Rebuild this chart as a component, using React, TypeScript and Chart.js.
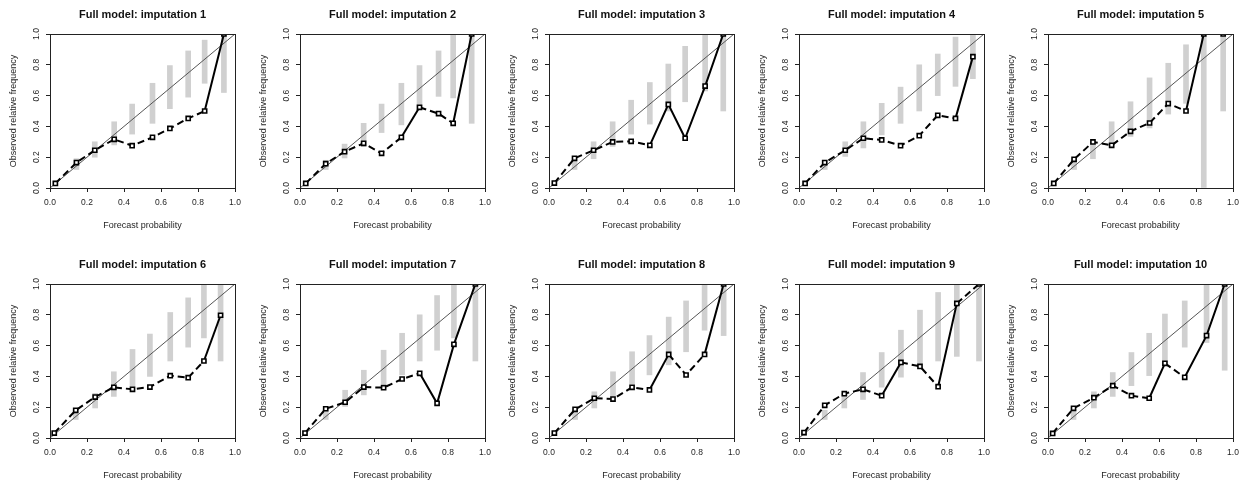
import React, { useEffect, useRef } from "react";
import { Chart, registerables } from "chart.js";

Chart.register(...registerables);

const panelTitles = [
  "Full model: imputation 1",
  "Full model: imputation 2",
  "Full model: imputation 3",
  "Full model: imputation 4",
  "Full model: imputation 5",
  "Full model: imputation 6",
  "Full model: imputation 7",
  "Full model: imputation 8",
  "Full model: imputation 9",
  "Full model: imputation 10",
];

const xAxisTitle = "Forecast probability";
const yAxisTitle = "Observed relative frequency";

const tickValues = [0, 0.2, 0.4, 0.6, 0.8, 1.0];
const tickLabels = ["0.0", "0.2", "0.4", "0.6", "0.8", "1.0"];

const diagonal = [0, 1];

// mean forecast probability per bin
const forecastProb = [
  [0.029, 0.143, 0.242, 0.347, 0.444, 0.554, 0.648, 0.747, 0.836, 0.94],
  [0.031, 0.139, 0.241, 0.344, 0.441, 0.548, 0.646, 0.749, 0.828, 0.928],
  [0.029, 0.138, 0.241, 0.344, 0.444, 0.545, 0.645, 0.736, 0.844, 0.942],
  [0.033, 0.139, 0.25, 0.348, 0.447, 0.549, 0.65, 0.75, 0.846, 0.94],
  [0.031, 0.141, 0.243, 0.344, 0.446, 0.549, 0.65, 0.746, 0.842, 0.947],
  [0.023, 0.139, 0.244, 0.345, 0.446, 0.54, 0.65, 0.747, 0.832, 0.922],
  [0.027, 0.139, 0.244, 0.345, 0.452, 0.552, 0.647, 0.741, 0.832, 0.948],
  [0.029, 0.141, 0.245, 0.346, 0.449, 0.543, 0.647, 0.741, 0.841, 0.944],
  [0.027, 0.139, 0.245, 0.346, 0.447, 0.551, 0.654, 0.752, 0.853, 0.973],
  [0.025, 0.138, 0.248, 0.35, 0.451, 0.547, 0.632, 0.739, 0.857, 0.955],
];

// observed relative frequency per bin
const observedFreq = [
  [0.03, 0.165, 0.245, 0.316, 0.275, 0.329, 0.387, 0.452, 0.5, 1.0],
  [0.03, 0.158, 0.236, 0.29, 0.225, 0.329, 0.524, 0.483, 0.42, 1.0],
  [0.032, 0.193, 0.245, 0.299, 0.303, 0.277, 0.543, 0.323, 0.662, 1.0],
  [0.03, 0.165, 0.245, 0.323, 0.312, 0.275, 0.34, 0.472, 0.452, 0.853],
  [0.03, 0.186, 0.299, 0.277, 0.368, 0.422, 0.548, 0.5, 1.0, 1.0],
  [0.032, 0.18, 0.266, 0.329, 0.316, 0.331, 0.405, 0.392, 0.5, 0.797],
  [0.032, 0.19, 0.232, 0.331, 0.327, 0.383, 0.42, 0.225, 0.608, 1.0],
  [0.032, 0.186, 0.258, 0.253, 0.329, 0.312, 0.543, 0.409, 0.543, 1.0],
  [0.035, 0.212, 0.288, 0.316, 0.275, 0.491, 0.465, 0.333, 0.874, 1.0],
  [0.03, 0.193, 0.262, 0.34, 0.275, 0.258, 0.485, 0.394, 0.665, 1.0],
];

// consistency band lower bounds
const lowerBound = [
  [0.015, 0.12, 0.2, 0.28, 0.35, 0.42, 0.515, 0.59, 0.68, 0.62],
  [0.015, 0.12, 0.195, 0.27, 0.36, 0.41, 0.51, 0.595, 0.585, 0.42],
  [0.015, 0.12, 0.19, 0.27, 0.35, 0.415, 0.5, 0.56, 0.63, 0.5],
  [0.015, 0.12, 0.205, 0.26, 0.345, 0.42, 0.5, 0.6, 0.66, 0.71],
  [0.015, 0.12, 0.19, 0.27, 0.335, 0.39, 0.48, 0.55, 0.0, 0.5],
  [0.015, 0.12, 0.195, 0.27, 0.335, 0.4, 0.5, 0.59, 0.65, 0.5],
  [0.015, 0.12, 0.205, 0.28, 0.35, 0.41, 0.5, 0.57, 0.65, 0.5],
  [0.015, 0.12, 0.195, 0.27, 0.35, 0.41, 0.475, 0.56, 0.7, 0.665],
  [0.015, 0.12, 0.195, 0.25, 0.33, 0.395, 0.48, 0.5, 0.53, 0.5],
  [0.015, 0.12, 0.195, 0.27, 0.34, 0.405, 0.495, 0.59, 0.62, 0.44],
];

// consistency band upper bounds
const upperBound = [
  [0.045, 0.19, 0.3, 0.43, 0.545, 0.68, 0.795, 0.89, 0.96, 1.0],
  [0.045, 0.18, 0.285, 0.42, 0.545, 0.68, 0.795, 0.89, 1.0, 1.0],
  [0.045, 0.19, 0.3, 0.43, 0.57, 0.685, 0.805, 0.92, 1.0, 1.0],
  [0.045, 0.18, 0.3, 0.43, 0.55, 0.655, 0.8, 0.87, 0.98, 1.0],
  [0.045, 0.19, 0.31, 0.43, 0.56, 0.715, 0.81, 0.93, 1.0, 1.0],
  [0.045, 0.18, 0.29, 0.43, 0.575, 0.675, 0.815, 0.91, 1.0, 1.0],
  [0.045, 0.19, 0.31, 0.44, 0.57, 0.68, 0.8, 0.925, 1.0, 1.0],
  [0.045, 0.19, 0.3, 0.43, 0.56, 0.665, 0.785, 0.89, 1.0, 1.0],
  [0.045, 0.18, 0.29, 0.425, 0.555, 0.7, 0.83, 0.945, 1.0, 1.0],
  [0.045, 0.19, 0.3, 0.425, 0.555, 0.68, 0.805, 0.89, 1.0, 1.0],
];

const FONT = "'Liberation Sans', Arial, sans-serif";
const TEXT = "#1e1e1e";
const CANVAS_W = 249;
const CANVAS_H = 235;

const framePlugin = {
  id: "rFrame",
  afterDraw(chart: any) {
    const { ctx, chartArea } = chart;
    const { left, right, top, bottom } = chartArea;
    ctx.save();
    ctx.strokeStyle = "#222";
    ctx.lineWidth = 1;
    ctx.strokeRect(
      Math.round(left) + 0.5,
      Math.round(top) + 0.5,
      Math.round(right) - Math.round(left),
      Math.round(bottom) - Math.round(top)
    );
    // rotated y tick labels (R style)
    const ys = chart.scales.y;
    ctx.fillStyle = TEXT;
    ctx.font = `8.5px ${FONT}`;
    ctx.textAlign = "center";
    ctx.textBaseline = "middle";
    tickValues.forEach((v, i) => {
      const py = ys.getPixelForValue(v);
      ctx.save();
      ctx.translate(37, py);
      ctx.rotate(-Math.PI / 2);
      ctx.fillText(tickLabels[i], 0, 0);
      ctx.restore();
    });
    ctx.restore();
  },
};

function Panel({ idx }: { idx: number }) {
  const ref = useRef<HTMLCanvasElement>(null);
  useEffect(() => {
    const xs = forecastProb[idx];
    const setTicks = (s: any) => {
      s.ticks = tickValues.map((v) => ({ value: v }));
    };
    const chart = new Chart(ref.current as HTMLCanvasElement, {
      type: "line",
      data: {
        datasets: [
          {
            type: "line",
            label: "observed",
            data: xs.map((x, i) => ({ x, y: observedFreq[idx][i] })),
            borderColor: "#000",
            borderWidth: 2,
            tension: 0,
            pointStyle: "rect",
            pointRadius: 2.9,
            pointBorderWidth: 1.6,
            pointBackgroundColor: "#fff",
            pointBorderColor: "#000",
            segment: {
              borderDash: (c: any) => {
                const dx = Math.abs(c.p1.x - c.p0.x);
                const dy = Math.abs(c.p1.y - c.p0.y);
                return dy > 1.5 * dx ? [] : [7, 4];
              },
            },
            order: 1,
          } as any,
          {
            type: "line",
            label: "diagonal",
            data: diagonal.map((v) => ({ x: v, y: v })),
            borderColor: "#555",
            borderWidth: 1,
            pointRadius: 0,
            order: 2,
          } as any,
          {
            type: "bar",
            label: "band",
            data: xs.map((x, i) => ({ x, y: [lowerBound[idx][i], upperBound[idx][i]] })),
            backgroundColor: "#d0d0d0",
            borderWidth: 0,
            barThickness: 5,
            order: 3,
          } as any,
        ],
      },
      options: {
        animation: false,
        responsive: false,
        events: [],
        layout: { padding: { top: 0, left: 0, right: 14, bottom: 0 } },
        plugins: {
          legend: { display: false },
          tooltip: { enabled: false },
          title: {
            display: true,
            text: panelTitles[idx],
            fullSize: false,
            color: "#111",
            font: { family: FONT, size: 11, weight: "bold", lineHeight: 1.2 },
            padding: { top: 8.4, bottom: 12.4 },
          },
        },
        scales: {
          x: {
            type: "linear",
            min: 0,
            max: 1,
            offset: false,
            afterBuildTicks: setTicks,
            afterFit: (s: any) => {
              s.height = CANVAS_H - 188;
            },
            grid: {
              display: true,
              drawOnChartArea: false,
              drawTicks: true,
              tickLength: 4,
              color: "#222",
              offset: false,
            },
            border: { display: false },
            ticks: {
              padding: 6,
              color: TEXT,
              maxRotation: 0,
              autoSkip: false,
              font: { family: FONT, size: 8.5, lineHeight: 1.2 },
              callback: (_v: any, i: number) => tickLabels[i],
            },
            title: {
              display: true,
              text: xAxisTitle,
              color: TEXT,
              font: { family: FONT, size: 9, lineHeight: 1.2 },
              padding: { top: 0, bottom: 3.6 },
            },
          },
          y: {
            type: "linear",
            min: 0,
            max: 1,
            afterBuildTicks: setTicks,
            afterFit: (s: any) => {
              s.width = 50;
            },
            grid: {
              display: true,
              drawOnChartArea: false,
              drawTicks: true,
              tickLength: 4,
              color: "#222",
            },
            border: { display: false },
            ticks: { display: false },
            title: {
              display: true,
              text: yAxisTitle,
              color: TEXT,
              font: { family: FONT, size: 9, lineHeight: 1.2 },
              padding: { top: 8.6, bottom: 0 },
            },
          },
        },
      } as any,
      plugins: [framePlugin],
    });
    return () => chart.destroy();
  }, [idx]);
  return (
    <canvas
      ref={ref}
      width={CANVAS_W}
      height={CANVAS_H}
      style={{ width: CANVAS_W, height: CANVAS_H, display: "block" }}
    />
  );
}

export default function App() {
  return (
    <div
      style={{
        position: "fixed",
        left: 0,
        top: 0,
        width: 1244,
        height: 485,
        overflow: "hidden",
        background: "#fff",
      }}
    >
      {panelTitles.map((_, i) => (
        <div
          key={i}
          style={{
            position: "absolute",
            left: Math.round((i % 5) * 249.6),
            top: Math.floor(i / 5) * 250,
            width: CANVAS_W,
            height: CANVAS_H,
          }}
        >
          <Panel idx={i} />
        </div>
      ))}
    </div>
  );
}
